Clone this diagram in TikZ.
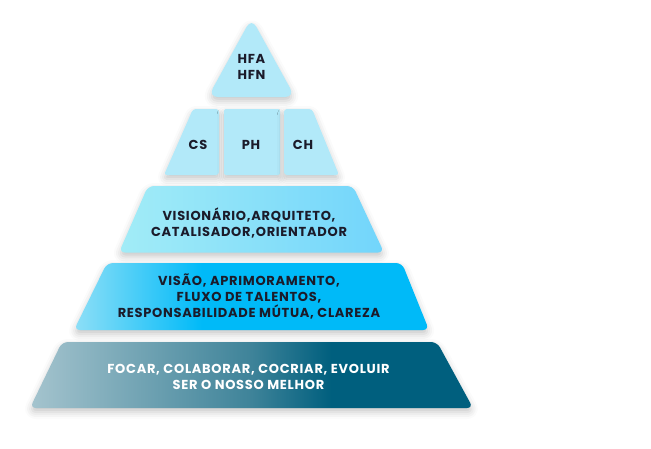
\documentclass[tikz,border=0pt]{standalone}
\usepackage{fontspec}
\setmainfont{Poppins}[LetterSpace=5.5]
\usetikzlibrary{shadows.blur}
\definecolor{topc}{HTML}{B2E9F9}
\definecolor{txt}{HTML}{1B1B2A}
\definecolor{r3a}{HTML}{A2ECF7}
\definecolor{r3b}{HTML}{72D5FB}
\definecolor{r4a}{HTML}{8EDFF7}
\definecolor{r4b}{HTML}{00BAF8}
\definecolor{r5a}{HTML}{A5C4CE}
\definecolor{r5m}{HTML}{3E8399}
\definecolor{r5b}{HTML}{005F7E}
\pgfdeclarehorizontalshading{shadethree}{100bp}{color(0bp)=(r3a); color(25bp)=(r3a); color(75bp)=(r3b); color(100bp)=(r3b)}
\pgfdeclarehorizontalshading{shadefour}{100bp}{color(0bp)=(r4a); color(25bp)=(r4a); color(43bp)=(r4b); color(100bp)=(r4b)}
\pgfdeclarehorizontalshading{shadefive}{100bp}{color(0bp)=(r5a); color(25bp)=(r5a); color(50bp)=(r5m); color(59bp)=(r5b); color(100bp)=(r5b)}
\tikzset{
  sh/.style={blur shadow={shadow xshift=0pt, shadow yshift=-4pt, shadow blur radius=7pt, shadow opacity=22}},
  tier/.style={sh, rounded corners=6pt},
  lbl/.style={text=txt, font=\fontsize{13}{16.2}\selectfont\bfseries, align=center, inner sep=0pt},
}
\begin{document}
\begin{tikzpicture}[x=1pt, y=-1pt]
\useasboundingbox (0,0) rectangle (651,448);
% top triangle
\fill[topc, sh, rounded corners=10pt] (208,97) -- (251.5,18) -- (295,97) -- cycle;
\node[lbl] (hf) at (251.5,67) {HFA\\HFN};
% second row
\fill[topc, sh, rounded corners=3pt] (193,109) -- (219,109) -- (219,175) -- (164,175) -- cycle;
\fill[topc, sh, rounded corners=2pt] (224,109) rectangle (280,175);
\fill[topc, sh, rounded corners=3pt] (284,109) -- (312,109) -- (339,175) -- (284,175) -- cycle;
\node[lbl] (cs) at (198,145) {CS};
\node[lbl] (ph) at (251,145) {PH};
\node[lbl] (ch) at (303,145) {CH};
% third row
\shade[shading=shadethree, tier] (148,186) -- (353,186) -- (384,252.5) -- (119,252.5) -- cycle;
\node[lbl] (r3) at (249,223) {VISIONÁRIO,ARQUITETO,\\CATALISADOR,ORIENTADOR};
% fourth row
\shade[shading=shadefour, tier] (107,263) -- (402,263) -- (429,330) -- (74,330) -- cycle;
\node[lbl] (r4) at (249,296.5) {VISÃO, APRIMORAMENTO,\\FLUXO DE TALENTOS,\\RESPONSABILIDADE MÚTUA, CLAREZA};
% fifth row
\shade[shading=shadefive, tier] (62,342) -- (437,342) -- (473,408) -- (30,408) -- cycle;
\node[lbl, text=white] (r5) at (248.5,377) {FOCAR, COLABORAR, COCRIAR, EVOLUIR\\SER O NOSSO MELHOR};
\end{tikzpicture}
\end{document}
